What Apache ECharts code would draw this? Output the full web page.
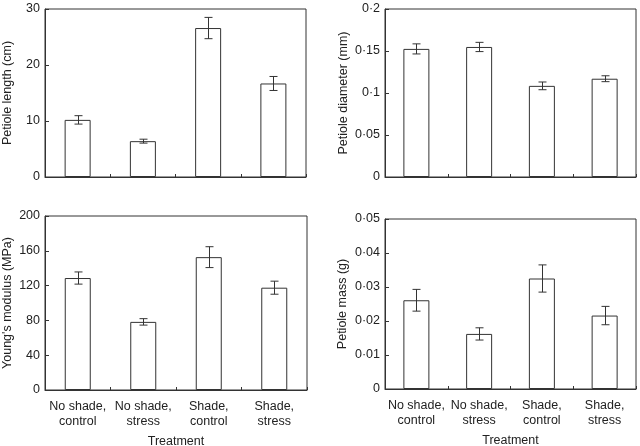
<!DOCTYPE html>
<html><head><meta charset="utf-8">
<script src="https://cdn.jsdelivr.net/npm/echarts@6/dist/echarts.min.js"></script>
<style>html,body{margin:0;padding:0;background:#fff}#c{width:640px;height:446px}</style>
</head><body><div id="c"></div>
<script>
const categories = ['No shade,\ncontrol', 'No shade,\nstress', 'Shade,\ncontrol', 'Shade,\nstress'];

const lengthMean = [10.2, 6.4, 26.6, 16.7];
const lengthErr = [0.75, 0.35, 1.9, 1.25];
const lengthTicks = ['0', '10', '20', '30'];

const diamMean = [0.1525, 0.1548, 0.1085, 0.117];
const diamErr = [0.006, 0.0055, 0.0046, 0.0035];
const diamTicks = ['0', '0·05', '0·1', '0·15', '0·2'];

const youngMean = [128.7, 78.3, 152.7, 117.6];
const youngErr = [7, 3.7, 12, 7.5];
const youngTicks = ['0', '40', '80', '120', '160', '200'];

const massMean = [0.0261, 0.0162, 0.0325, 0.0216];
const massErr = [0.0032, 0.0018, 0.004, 0.0027];
const massTicks = ['0', '0·01', '0·02', '0·03', '0·04', '0·05'];

const FONT = 'Liberation Sans, Arial, sans-serif';
const INK = '#222';

const panels = [
  {mean: lengthMean, err: lengthErr, ticks: lengthTicks, max: 30, interval: 10, name: 'Petiole length (cm)', gap: 31,
   grid: {left: 45, top: 9, width: 261, height: 168}, showX: false},
  {mean: diamMean, err: diamErr, ticks: diamTicks, max: 0.2, interval: 0.05, name: 'Petiole diameter (mm)', gap: 35,
   grid: {left: 385, top: 9, width: 251, height: 168}, showX: false},
  {mean: youngMean, err: youngErr, ticks: youngTicks, max: 200, interval: 40, name: "Young's modulus (MPa)", gap: 31,
   grid: {left: 45, top: 216, width: 262, height: 174}, showX: true},
  {mean: massMean, err: massErr, ticks: massTicks, max: 0.05, interval: 0.01, name: 'Petiole mass (g)', gap: 36,
   grid: {left: 385, top: 219, width: 251, height: 170}, showX: true}
];

const grid = [], xAxis = [], yAxis = [], series = [];
panels.forEach((p, i) => {
  grid.push(Object.assign({show: true, borderColor: '#333', borderWidth: 1, backgroundColor: 'transparent',
    containLabel: false, outerBoundsMode: 'none'}, p.grid));
  xAxis.push({
    type: 'category', gridIndex: i, data: categories,
    name: p.showX ? 'Treatment' : '', nameLocation: 'middle', nameGap: 45,
    nameTextStyle: {fontFamily: FONT, fontSize: 12.5, color: INK},
    axisLine: {lineStyle: {color: '#333'}},
    axisTick: {show: true, inside: true, length: 3, lineStyle: {color: '#333'}},
    axisLabel: {show: p.showX, fontFamily: FONT, fontSize: 12.5, color: INK, margin: 9, lineHeight: 15, interval: 0}
  });
  yAxis.push({
    type: 'value', gridIndex: i, min: 0, max: p.max, interval: p.interval,
    name: p.name, nameLocation: 'middle', nameGap: p.gap,
    nameTextStyle: {fontFamily: FONT, fontSize: 12.5, color: INK},
    splitLine: {show: false},
    axisLine: {show: true, lineStyle: {color: '#333'}},
    axisTick: {show: true, inside: true, length: 4, lineStyle: {color: '#333'}},
    axisLabel: {fontFamily: FONT, fontSize: 12.5, color: INK, margin: 5,
      formatter: (v, idx) => p.ticks[idx] !== undefined ? p.ticks[idx] : String(v)}
  });
  series.push({
    type: 'bar', xAxisIndex: i, yAxisIndex: i, data: p.mean, barWidth: 26,
    itemStyle: {color: '#fff', borderColor: '#333', borderWidth: 1}, silent: true
  });
  series.push({
    type: 'custom', xAxisIndex: i, yAxisIndex: i,
    data: p.mean.map((m, k) => [k, m - p.err[k], m + p.err[k]]),
    renderItem: (params, api) => {
      const lo = api.coord([api.value(0), api.value(1)]);
      const hi = api.coord([api.value(0), api.value(2)]);
      const x = Math.round(lo[0]) + 0.5, cw = 4;
      const st = {stroke: '#333', lineWidth: 1};
      return {type: 'group', children: [
        {type: 'line', shape: {x1: x, y1: hi[1], x2: x, y2: lo[1]}, style: st},
        {type: 'line', shape: {x1: x - cw, y1: hi[1], x2: x + cw, y2: hi[1]}, style: st},
        {type: 'line', shape: {x1: x - cw, y1: lo[1], x2: x + cw, y2: lo[1]}, style: st}
      ]};
    },
    z: 5, silent: true
  });
});

const chart = echarts.init(document.getElementById('c'), null, {renderer: 'canvas'});
chart.setOption({animation: false, backgroundColor: '#fff', grid, xAxis, yAxis, series});
</script></body></html>
